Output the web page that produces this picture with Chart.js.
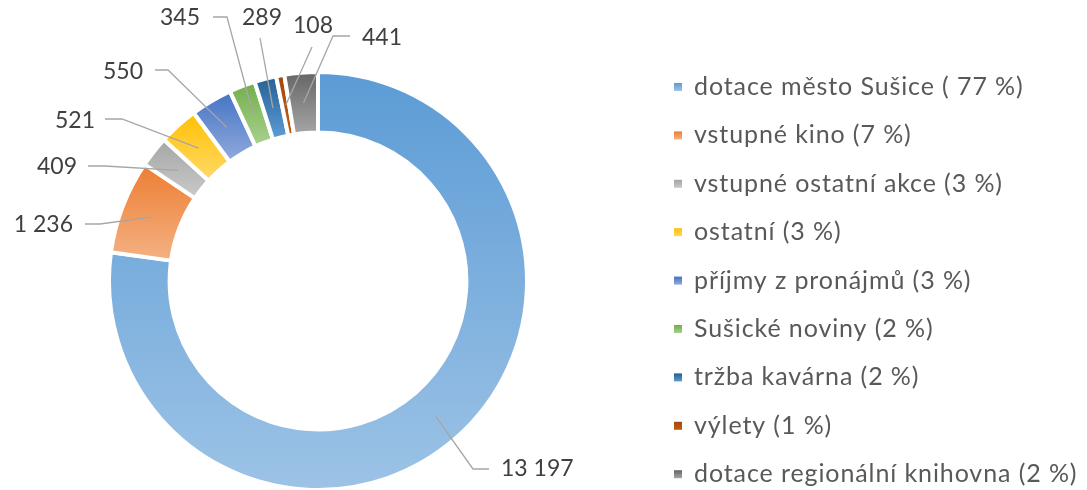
<!DOCTYPE html>
<html>
<head>
<meta charset="utf-8">
<script src="https://cdn.jsdelivr.net/npm/chart.js@4.4.1/dist/chart.umd.min.js"></script>
<style>
  html, body { margin: 0; padding: 0; background: #fff; overflow: hidden; }
  #wrap { width: 1087px; height: 492px; position: relative; }
</style>
</head>
<body>
<div id="wrap"><canvas id="chart"></canvas></div>
<script>
const categories = ['dotace město Sušice', 'vstupné kino', 'vstupné ostatní akce', 'ostatní',
  'příjmy z pronájmů', 'Sušické noviny', 'tržba kavárna', 'výlety', 'dotace regionální knihovna'];
const shares = ['( 77 %)', '(7 %)', '(3 %)', '(3 %)', '(3 %)', '(2 %)', '(2 %)', '(1 %)', '(2 %)'];
const values = [13197, 1236, 409, 521, 550, 345, 289, 108, 441];

const topColors = ['#5B9BD5', '#ED7D31', '#A5A5A5', '#FFC000', '#4472C4', '#70AD47', '#255E91', '#9E480E', '#636363'];
const bottomColors = ['#9DC3E6', '#F4B183', '#C9C9C9', '#FFD966', '#8FAADC', '#A9D18E', '#5B9BD5', '#C55A11', '#A5A5A5'];

// label placement relative to the doughnut centre: text point, alignment, leader line points
const labelLayout = [
  { tx: 183, ty: 188, align: 'left',   pts: [[155, 188], [171, 188]] },
  { tx: -245, ty: -56, align: 'right', pts: [[-218, -57], [-233, -57]] },
  { tx: -241, ty: -114, align: 'right', pts: [[-213, -115], [-230, -115]] },
  { tx: -223, ty: -160, align: 'right', pts: [[-196, -162], [-213, -162]] },
  { tx: -175, ty: -209, align: 'right', pts: [[-150, -211], [-163, -211]] },
  { tx: -118, ty: -263, align: 'right', pts: [[-91, -264], [-105, -264]] },
  { tx: -56, ty: -263, align: 'center', pts: [[-58, -243]] },
  { tx: -5, ty: -255, align: 'center', pts: [[-6, -234]] },
  { tx: 44, ty: -243, align: 'left',   pts: [[15, -245], [32, -245]] }
];

const CUTOUT = 0.71;
const total = values.reduce((a, b) => a + b, 0);

function fmt(v) {
  return String(v).replace(/\B(?=(\d{3})+(?!\d))/g, ' ');
}

function sliceFill(c) {
  const chart = c.chart;
  const i = c.dataIndex;
  const area = chart.chartArea;
  if (!area || i === undefined) return topColors[i || 0];
  const cx = (area.left + area.right) / 2;
  const cy = (area.top + area.bottom) / 2;
  const R = Math.min(area.width, area.height) / 2;
  const r = R * CUTOUT;
  let before = 0;
  for (let k = 0; k < i; k++) before += values[k];
  const a0 = -Math.PI / 2 + before / total * 2 * Math.PI;
  const a1 = a0 + values[i] / total * 2 * Math.PI;
  let ymin = Infinity, ymax = -Infinity;
  for (let s = 0; s <= 60; s++) {
    const a = a0 + (a1 - a0) * s / 60;
    for (const rr of [r, R]) {
      const y = cy + rr * Math.sin(a);
      ymin = Math.min(ymin, y);
      ymax = Math.max(ymax, y);
    }
  }
  if (ymax - ymin < 1) ymax = ymin + 1;
  const g = chart.ctx.createLinearGradient(0, ymin, 0, ymax);
  g.addColorStop(0, topColors[i]);
  g.addColorStop(1, bottomColors[i]);
  return g;
}

const dataLabels = {
  id: 'dataLabels',
  afterDatasetsDraw(chart) {
    const ctx = chart.ctx;
    const meta = chart.getDatasetMeta(0);
    ctx.save();
    meta.data.forEach((arc, i) => {
      const p = arc.getProps(['x', 'y', 'startAngle', 'endAngle', 'innerRadius', 'outerRadius'], true);
      const mid = (p.startAngle + p.endAngle) / 2;
      const rm = (p.innerRadius + p.outerRadius) / 2;
      const ax = p.x + Math.cos(mid) * rm;
      const ay = p.y + Math.sin(mid) * rm;
      const L = labelLayout[i];
      ctx.beginPath();
      ctx.moveTo(ax, ay);
      L.pts.forEach(pt => ctx.lineTo(p.x + pt[0], p.y + pt[1]));
      ctx.strokeStyle = '#A6A6A6';
      ctx.lineWidth = 1.3;
      ctx.stroke();
      ctx.fillStyle = '#404040';
      ctx.font = '23px Lato';
      ctx.textAlign = L.align;
      ctx.textBaseline = 'middle';
      ctx.fillText(fmt(values[i]), p.x + L.tx, p.y + L.ty);
    });
    ctx.restore();
  }
};

const sideLegend = {
  id: 'sideLegend',
  afterDraw(chart) {
    const ctx = chart.ctx;
    const x0 = 674, y0 = 87, step = 48.4;
    ctx.save();
    categories.forEach((name, i) => {
      const y = y0 + i * step;
      const g = ctx.createLinearGradient(0, y - 4, 0, y + 4);
      g.addColorStop(0, topColors[i]);
      g.addColorStop(1, bottomColors[i]);
      ctx.fillStyle = g;
      ctx.fillRect(x0, y - 4, 8, 8);
      ctx.fillStyle = '#595959';
      ctx.font = '25px Lato';
      ctx.letterSpacing = '0.9px';
      ctx.textAlign = 'left';
      ctx.textBaseline = 'middle';
      ctx.fillText(name + ' ' + shares[i], x0 + 20, y);
    });
    ctx.restore();
  }
};

new Chart(document.getElementById('chart'), {
  type: 'doughnut',
  data: {
    labels: categories,
    datasets: [{
      data: values,
      backgroundColor: sliceFill,
      borderColor: '#FFFFFF',
      borderWidth: 4,
      hoverOffset: 0
    }]
  },
  options: {
    responsive: true,
    maintainAspectRatio: false,
    animation: false,
    cutout: (CUTOUT * 100) + '%',
    layout: { padding: { left: 107, right: 558, top: 70, bottom: 0 } },
    plugins: {
      legend: { display: false },
      tooltip: { enabled: false }
    }
  },
  plugins: [dataLabels, sideLegend]
});
</script>
</body>
</html>
